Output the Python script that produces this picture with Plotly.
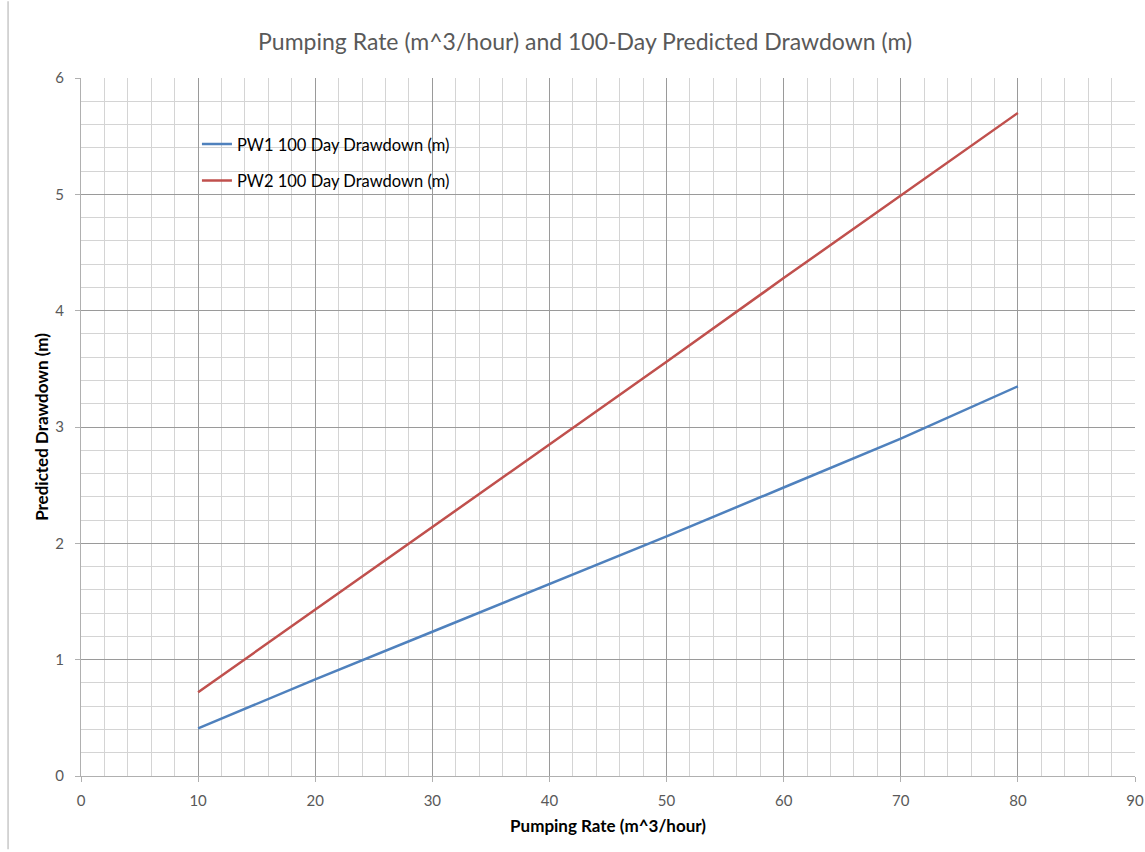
import plotly.graph_objects as go

# Pumping rates (m^3/hour) and predicted 100-day drawdowns (m)
pumping_rate = [10, 20, 30, 40, 50, 60, 70, 80]
pw1_drawdown = [0.41, 0.83, 1.24, 1.65, 2.06, 2.48, 2.90, 3.35]
pw2_drawdown = [0.72, 1.43, 2.14, 2.85, 3.56, 4.28, 4.99, 5.70]

FONT = "Lato, 'Open Sans', sans-serif"

fig = go.Figure()
fig.add_trace(go.Scatter(
    x=pumping_rate, y=pw1_drawdown, mode="lines",
    name="PW1 100 Day Drawdown (m)", legendgroup="pw1",
    line=dict(color="#4f81bd", width=2.5),
))
fig.add_trace(go.Scatter(
    x=pumping_rate, y=pw2_drawdown, mode="lines",
    name="PW2 100 Day Drawdown (m)", legendgroup="pw2",
    line=dict(color="#c0504d", width=2.5),
))

axis_common = dict(
    showline=True, linecolor="#b0b0b0", linewidth=1,
    gridcolor="#9a9a9a", gridwidth=1,
    ticks="outside", ticklen=5, tickcolor="#b0b0b0",
    tickfont=dict(family=FONT, size=15, color="#595959"),
    zeroline=False, mirror=False, automargin=False,
    ticklabeloverflow="allow",
)

fig.update_layout(
    width=1145, height=852,
    margin=dict(l=81, r=10, t=78, b=76),
    paper_bgcolor="white", plot_bgcolor="white",
    title=dict(
        text="Pumping Rate (m^3/hour) and 100-Day Predicted Drawdown (m)",
        x=0.511, xanchor="center", y=0.951, yanchor="middle",
        font=dict(family=FONT, size=23, color="#595959"),
    ),
    xaxis=dict(
        range=[0, 90], dtick=10, tick0=0,
        minor=dict(dtick=2, showgrid=True, gridcolor="#d4d4d4", gridwidth=1),
        title=dict(text="<b>Pumping Rate (m^3/hour)</b>", standoff=12,
                   font=dict(family=FONT, size=17, color="black")),
        ticklabelstandoff=6,
        **axis_common,
    ),
    yaxis=dict(
        range=[0, 6], dtick=1, tick0=0,
        minor=dict(dtick=0.2, showgrid=True, gridcolor="#d4d4d4", gridwidth=1),
        title=dict(text="<b>Predicted Drawdown (m)</b>", standoff=2,
                   font=dict(family=FONT, size=17, color="black")),
        ticklabelstandoff=8,
        **axis_common,
    ),
    legend=dict(
        x=0.11, y=0.93, xanchor="left", yanchor="top",
        bgcolor="rgba(0,0,0,0)", borderwidth=0,
        font=dict(family=FONT, size=16.5, color="black"),
        itemwidth=30, tracegroupgap=12,
    ),
    showlegend=True,
)

# faint frame edge down the left side of the chart area
fig.add_shape(type="line", xref="paper", yref="paper",
              x0=-0.0692, x1=-0.0692, y0=-0.105, y1=1.11,
              line=dict(color="#c8c8c8", width=1.5))

fig.write_html("out.html")
